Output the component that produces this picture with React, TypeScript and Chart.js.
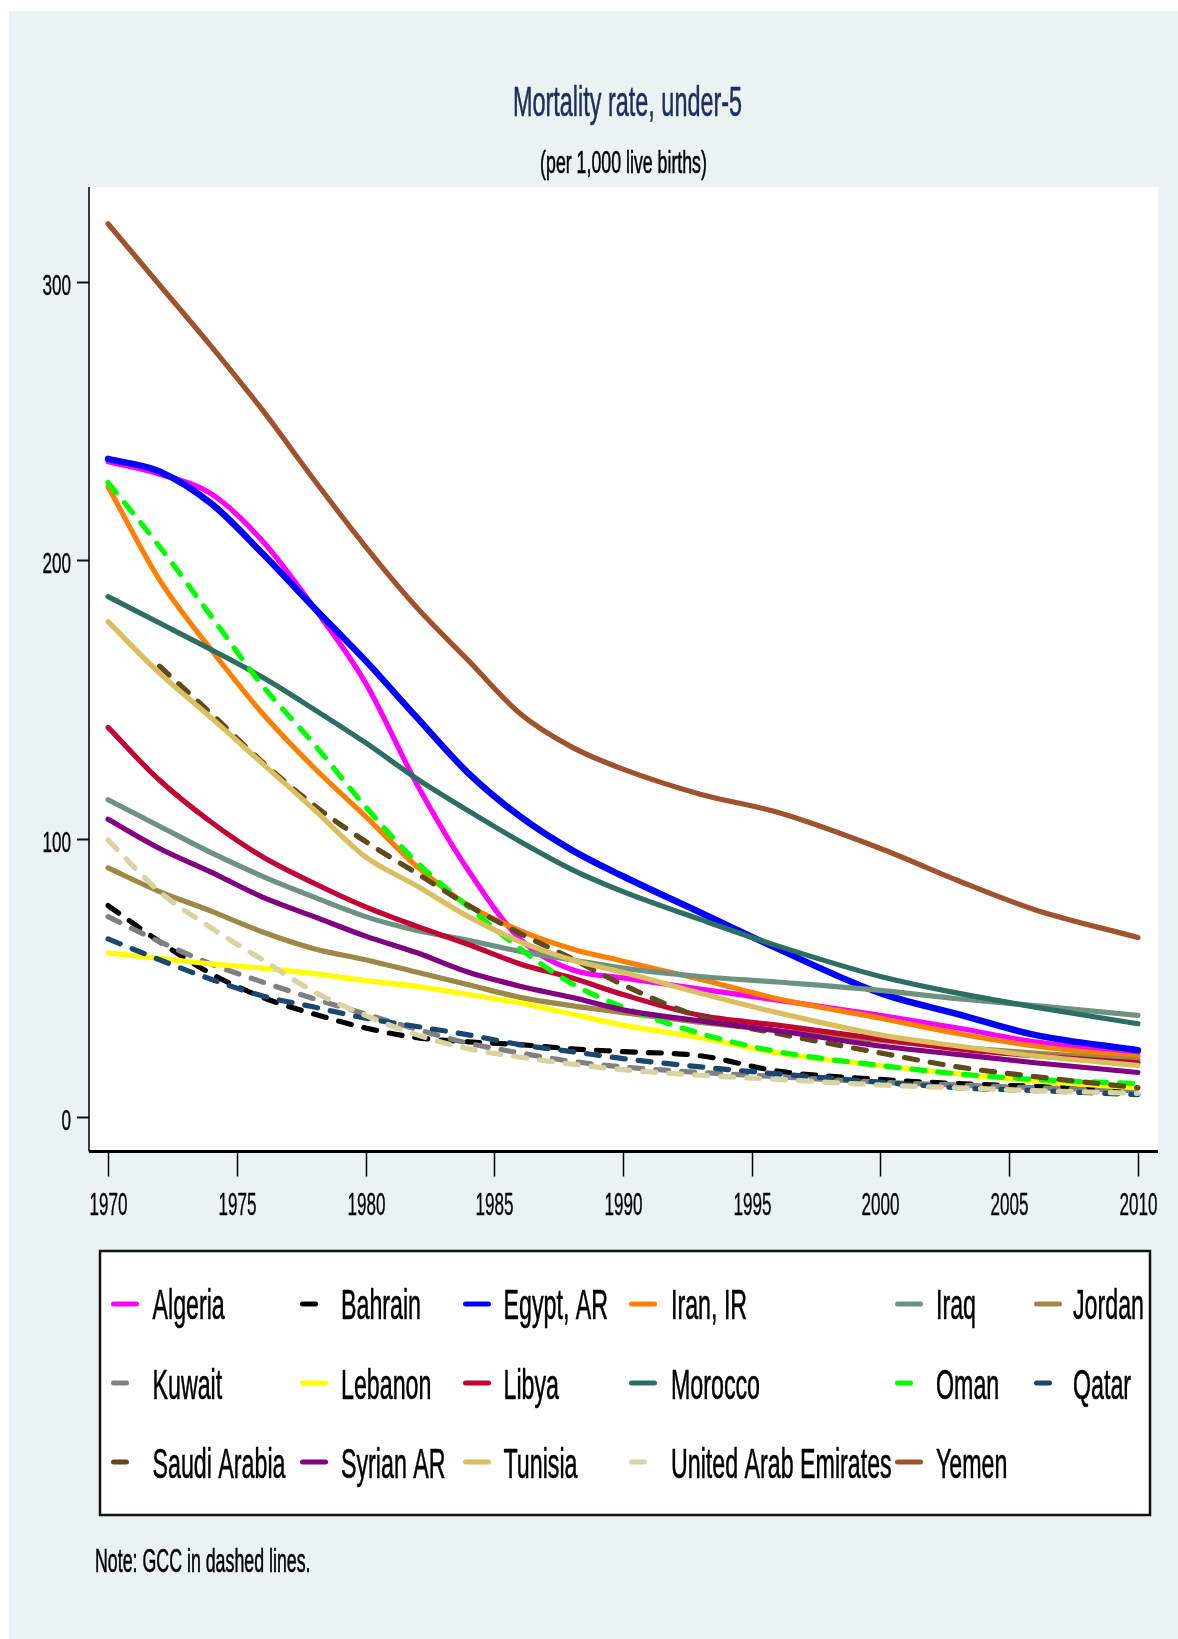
import React, { useEffect, useRef } from "react";
import { Chart, registerables } from "chart.js";

Chart.register(...registerables);

// ---------- data ----------
const years = [1970, 1972, 1974, 1976, 1978, 1980, 1982, 1984, 1986, 1988, 1990, 1993, 1996, 2000, 2003, 2006, 2010];

const algeria = [235.5, 231, 224, 207, 183, 156, 119.5, 88.5, 64, 53, 50, 46, 42, 36.5, 32, 27, 23];
const bahrain = [76, 63, 51.5, 43, 37, 32, 28.5, 27, 26, 24.5, 23.5, 22, 16.5, 13.5, 12, 11, 9.5];
const egypt = [236.5, 232, 220.5, 202.5, 183, 164, 143.5, 123.5, 108, 96, 86.5, 73.5, 60.5, 44.5, 37, 29.5, 24];
const iran = [226.5, 193, 168, 145, 125.5, 108, 90, 76, 67, 60.5, 56, 49.5, 42.5, 35.5, 30, 25.5, 21.5];
const iraq = [114, 104.5, 95, 86.5, 79, 72, 67, 63.5, 59.5, 56.5, 53.5, 50.5, 48.5, 45.5, 42.5, 40, 36.5];
const jordan = [89.5, 81, 74, 66.5, 60.5, 56.5, 52, 47.5, 43, 40, 37.5, 34, 31, 27.5, 25, 23, 20.5];
const kuwait = [72, 63, 55, 48.5, 42.5, 37, 31.5, 26.5, 23, 20, 18, 16, 14.5, 12.5, 11.5, 10.5, 9.5];
const lebanon = [59, 57, 55, 53.5, 51.5, 49, 47, 44, 41, 37, 33, 28.5, 23, 18.5, 15.5, 13, 10.5];
const libya = [140, 121, 106, 93.5, 84, 75.5, 68.5, 62, 55, 50, 44, 36.5, 33, 28, 24.5, 22, 19.5];
const morocco = [187, 177.5, 168, 158, 146.5, 134.5, 121.5, 110, 99, 89, 81, 71, 61.5, 50.5, 44.5, 39.5, 33.5];
const oman = [228, 205, 180, 155, 134, 111.5, 91.5, 75.5, 60.5, 48, 39.5, 30, 23.5, 18.5, 15.5, 13.5, 12];
const qatar = [64, 56.5, 49.5, 43.5, 39.5, 35.5, 32.5, 29.5, 26, 23.5, 21, 18, 15.5, 12.5, 10.5, 9.5, 8];
const saudiArabia = [null, 162, 145, 127.5, 112, 99, 87.5, 76, 66, 57, 47.5, 36, 30, 23, 18, 14.5, 10.5];
const syria = [107, 96.5, 88, 79, 72, 65, 59, 52, 47, 43, 38.5, 34.5, 31, 25.5, 22.5, 19.5, 16];
const tunisia = [178, 159.5, 143.5, 127, 110.5, 93.5, 83, 72, 63, 56.5, 52, 44.5, 37.5, 29.5, 25.5, 22, 18.5];
const uae = [99.5, 81, 68, 56.5, 45, 36.5, 29.5, 24.5, 21.5, 19, 17, 15, 13.5, 11.5, 10.5, 9.5, 8.5];
const yemen = [321, 299, 277, 254, 229, 205, 183, 164, 145, 133, 125, 116, 109.5, 96.5, 85, 74.5, 64.5];

const xTicks = [1970, 1975, 1980, 1985, 1990, 1995, 2000, 2005, 2010];
const yTicks = [0, 100, 200, 300];

const titleText = "Mortality rate, under-5";
const subtitleText = "(per 1,000 live births)";
const noteText = "Note: GCC in dashed lines.";

type Series = { name: string; values: (number | null)[]; color: string; dashed: boolean; width?: number };

const series: Series[] = [
  { name: "Algeria", values: algeria, color: "#FF00FF", dashed: false },
  { name: "Bahrain", values: bahrain, color: "#000000", dashed: true },
  { name: "Egypt, AR", values: egypt, color: "#0000FF", dashed: false, width: 6.5 },
  { name: "Iran, IR", values: iran, color: "#FF7F00", dashed: false },
  { name: "Iraq", values: iraq, color: "#6E9282", dashed: false },
  { name: "Jordan", values: jordan, color: "#9C8847", dashed: false },
  { name: "Kuwait", values: kuwait, color: "#808080", dashed: true },
  { name: "Lebanon", values: lebanon, color: "#FFFF00", dashed: false },
  { name: "Libya", values: libya, color: "#C00535", dashed: false },
  { name: "Morocco", values: morocco, color: "#2D6E62", dashed: false },
  { name: "Oman", values: oman, color: "#00FF00", dashed: true },
  { name: "Qatar", values: qatar, color: "#1A4670", dashed: true },
  { name: "Saudi Arabia", values: saudiArabia, color: "#5E4A1A", dashed: true },
  { name: "Syrian AR", values: syria, color: "#800080", dashed: false },
  { name: "Tunisia", values: tunisia, color: "#D9BF60", dashed: false },
  { name: "United Arab Emirates", values: uae, color: "#D9D3A3", dashed: true },
  { name: "Yemen", values: yemen, color: "#A0522D", dashed: false },
];

// ---------- layout constants ----------
const W = 1178;
const H = 1639;
const BG = "#EAF2F3";
const FONT = '"Liberation Sans", Arial, Helvetica, sans-serif';
const LINE_W = 5.2;
const DASH = [13, 13];

function drawText(
  ctx: CanvasRenderingContext2D,
  s: string,
  x: number,
  y: number,
  size: number,
  sx: number,
  align: CanvasTextAlign,
  color: string,
  weight = 0.6
) {
  ctx.save();
  ctx.font = `${size}px ${FONT}`;
  ctx.fillStyle = color;
  ctx.strokeStyle = color;
  ctx.lineWidth = weight;
  ctx.lineJoin = "round";
  ctx.textAlign = align;
  ctx.textBaseline = "alphabetic";
  ctx.translate(x, y);
  ctx.scale(sx, 1);
  ctx.fillText(s, 0, 0);
  if (weight > 0) ctx.strokeText(s, 0, 0);
  ctx.restore();
}

const decorPlugin = {
  id: "decor",
  beforeDraw(chart: any) {
    const ctx: CanvasRenderingContext2D = chart.ctx;
    const a = chart.chartArea;
    ctx.save();
    ctx.fillStyle = "#FFFFFF";
    ctx.fillRect(0, 0, W, H);
    ctx.fillStyle = BG;
    ctx.fillRect(9, 11, W - 9, H - 11);
    ctx.fillStyle = "#FFFFFF";
    ctx.fillRect(a.left, a.top, a.right - a.left, a.bottom - a.top);
    ctx.restore();
  },
  afterDraw(chart: any) {
    const ctx: CanvasRenderingContext2D = chart.ctx;
    const a = chart.chartArea;
    const xs = chart.scales.x;
    const ys = chart.scales.y;
    ctx.save();

    // left axis
    ctx.strokeStyle = "#3a3a3a";
    ctx.lineWidth = 2;
    ctx.beginPath();
    ctx.moveTo(a.left, a.top);
    ctx.lineTo(a.left, a.bottom);
    ctx.stroke();
    ctx.strokeStyle = "#111";
    ctx.lineWidth = 2;
    for (const v of yTicks) {
      const py = Math.round(ys.getPixelForValue(v)) + 0.5;
      ctx.beginPath();
      ctx.moveTo(a.left - 12, py);
      ctx.lineTo(a.left, py);
      ctx.stroke();
      drawText(ctx, String(v), 71, py + 12.5, 30, 0.57, "right", "#000", 0.4);
    }

    // bottom axis
    ctx.strokeStyle = "#000";
    ctx.lineWidth = 3;
    ctx.beginPath();
    ctx.moveTo(a.left, a.bottom);
    ctx.lineTo(a.right, a.bottom);
    ctx.stroke();
    ctx.lineWidth = 1.5;
    for (const yr of xTicks) {
      const px = Math.round(xs.getPixelForValue(yr)) + 0.5;
      ctx.beginPath();
      ctx.moveTo(px, a.bottom + 1);
      ctx.lineTo(px, a.bottom + 25);
      ctx.stroke();
      drawText(ctx, String(yr), px, 1215, 31, 0.55, "center", "#000", 0.4);
    }

    // titles
    drawText(ctx, titleText, 627.5, 116, 43, 0.545, "center", "#1F2D58");
    drawText(ctx, subtitleText, 623.5, 173, 32, 0.555, "center", "#000");

    // legend box
    const lx = 100, ly = 1251, lw = 1050, lh = 264;
    ctx.fillStyle = "#FFFFFF";
    ctx.fillRect(lx, ly, lw, lh);
    ctx.strokeStyle = "#111";
    ctx.lineWidth = 2.5;
    ctx.strokeRect(lx, ly, lw, lh);

    const colSym = [111, 300, 463, 629, 895, 1034];
    const colTxt = [152.5, 341, 503.5, 671, 936, 1073];
    const rowSym = [1304, 1383, 1462];
    const rowBase = [1319, 1399, 1478];
    series.forEach((s, i) => {
      const c = i % 6;
      const r = Math.floor(i / 6);
      const x0 = colSym[c];
      const y0 = rowSym[r];
      ctx.save();
      ctx.strokeStyle = s.color;
      ctx.lineWidth = 5;
      ctx.lineCap = "round";
      ctx.setLineDash(s.dashed ? DASH : []);
      ctx.beginPath();
      ctx.moveTo(x0 + 2.5, y0);
      ctx.lineTo(x0 + 25.5, y0);
      ctx.stroke();
      ctx.restore();
      drawText(ctx, s.name, colTxt[c], rowBase[r], 43, 0.54, "left", "#000");
    });

    // note
    drawText(ctx, noteText, 95, 1572, 32.6, 0.546, "left", "#000");
    ctx.restore();
  },
};

export default function App() {
  const ref = useRef<HTMLCanvasElement | null>(null);

  useEffect(() => {
    document.body.style.margin = "0";
    document.body.style.overflow = "hidden";
    const canvas = ref.current;
    if (!canvas) return;
    const N = series.length;
    const chart = new Chart(canvas, {
      type: "line",
      data: {
        datasets: series.map((s, i) => ({
          label: s.name,
          data: years.map((yr, j) => ({ x: yr, y: s.values[j] })),
          borderColor: s.color,
          backgroundColor: s.color,
          borderWidth: s.width ?? LINE_W,
          borderDash: s.dashed ? DASH : [],
          borderCapStyle: "round",
          borderJoinStyle: "round",
          pointRadius: 0,
          pointHoverRadius: 0,
          fill: false,
          cubicInterpolationMode: "monotone",
          spanGaps: false,
          order: N - 1 - i,
        })),
      },
      options: {
        responsive: false,
        animation: false,
        devicePixelRatio: 1,
        events: [],
        layout: { padding: { left: 89, top: 187, right: W - 1158, bottom: H - 1151.5 } },
        scales: {
          x: { type: "linear", display: false, min: 1969.26, max: 2010.78 },
          y: { type: "linear", display: false, min: -12.4, max: 334.2 },
        },
        plugins: {
          legend: { display: false },
          title: { display: false },
          tooltip: { enabled: false },
        },
      },
      plugins: [decorPlugin],
    } as any);
    return () => chart.destroy();
  }, []);

  return (
    <canvas
      ref={ref}
      width={W}
      height={H}
      style={{ display: "block", width: W + "px", height: H + "px" }}
    />
  );
}
